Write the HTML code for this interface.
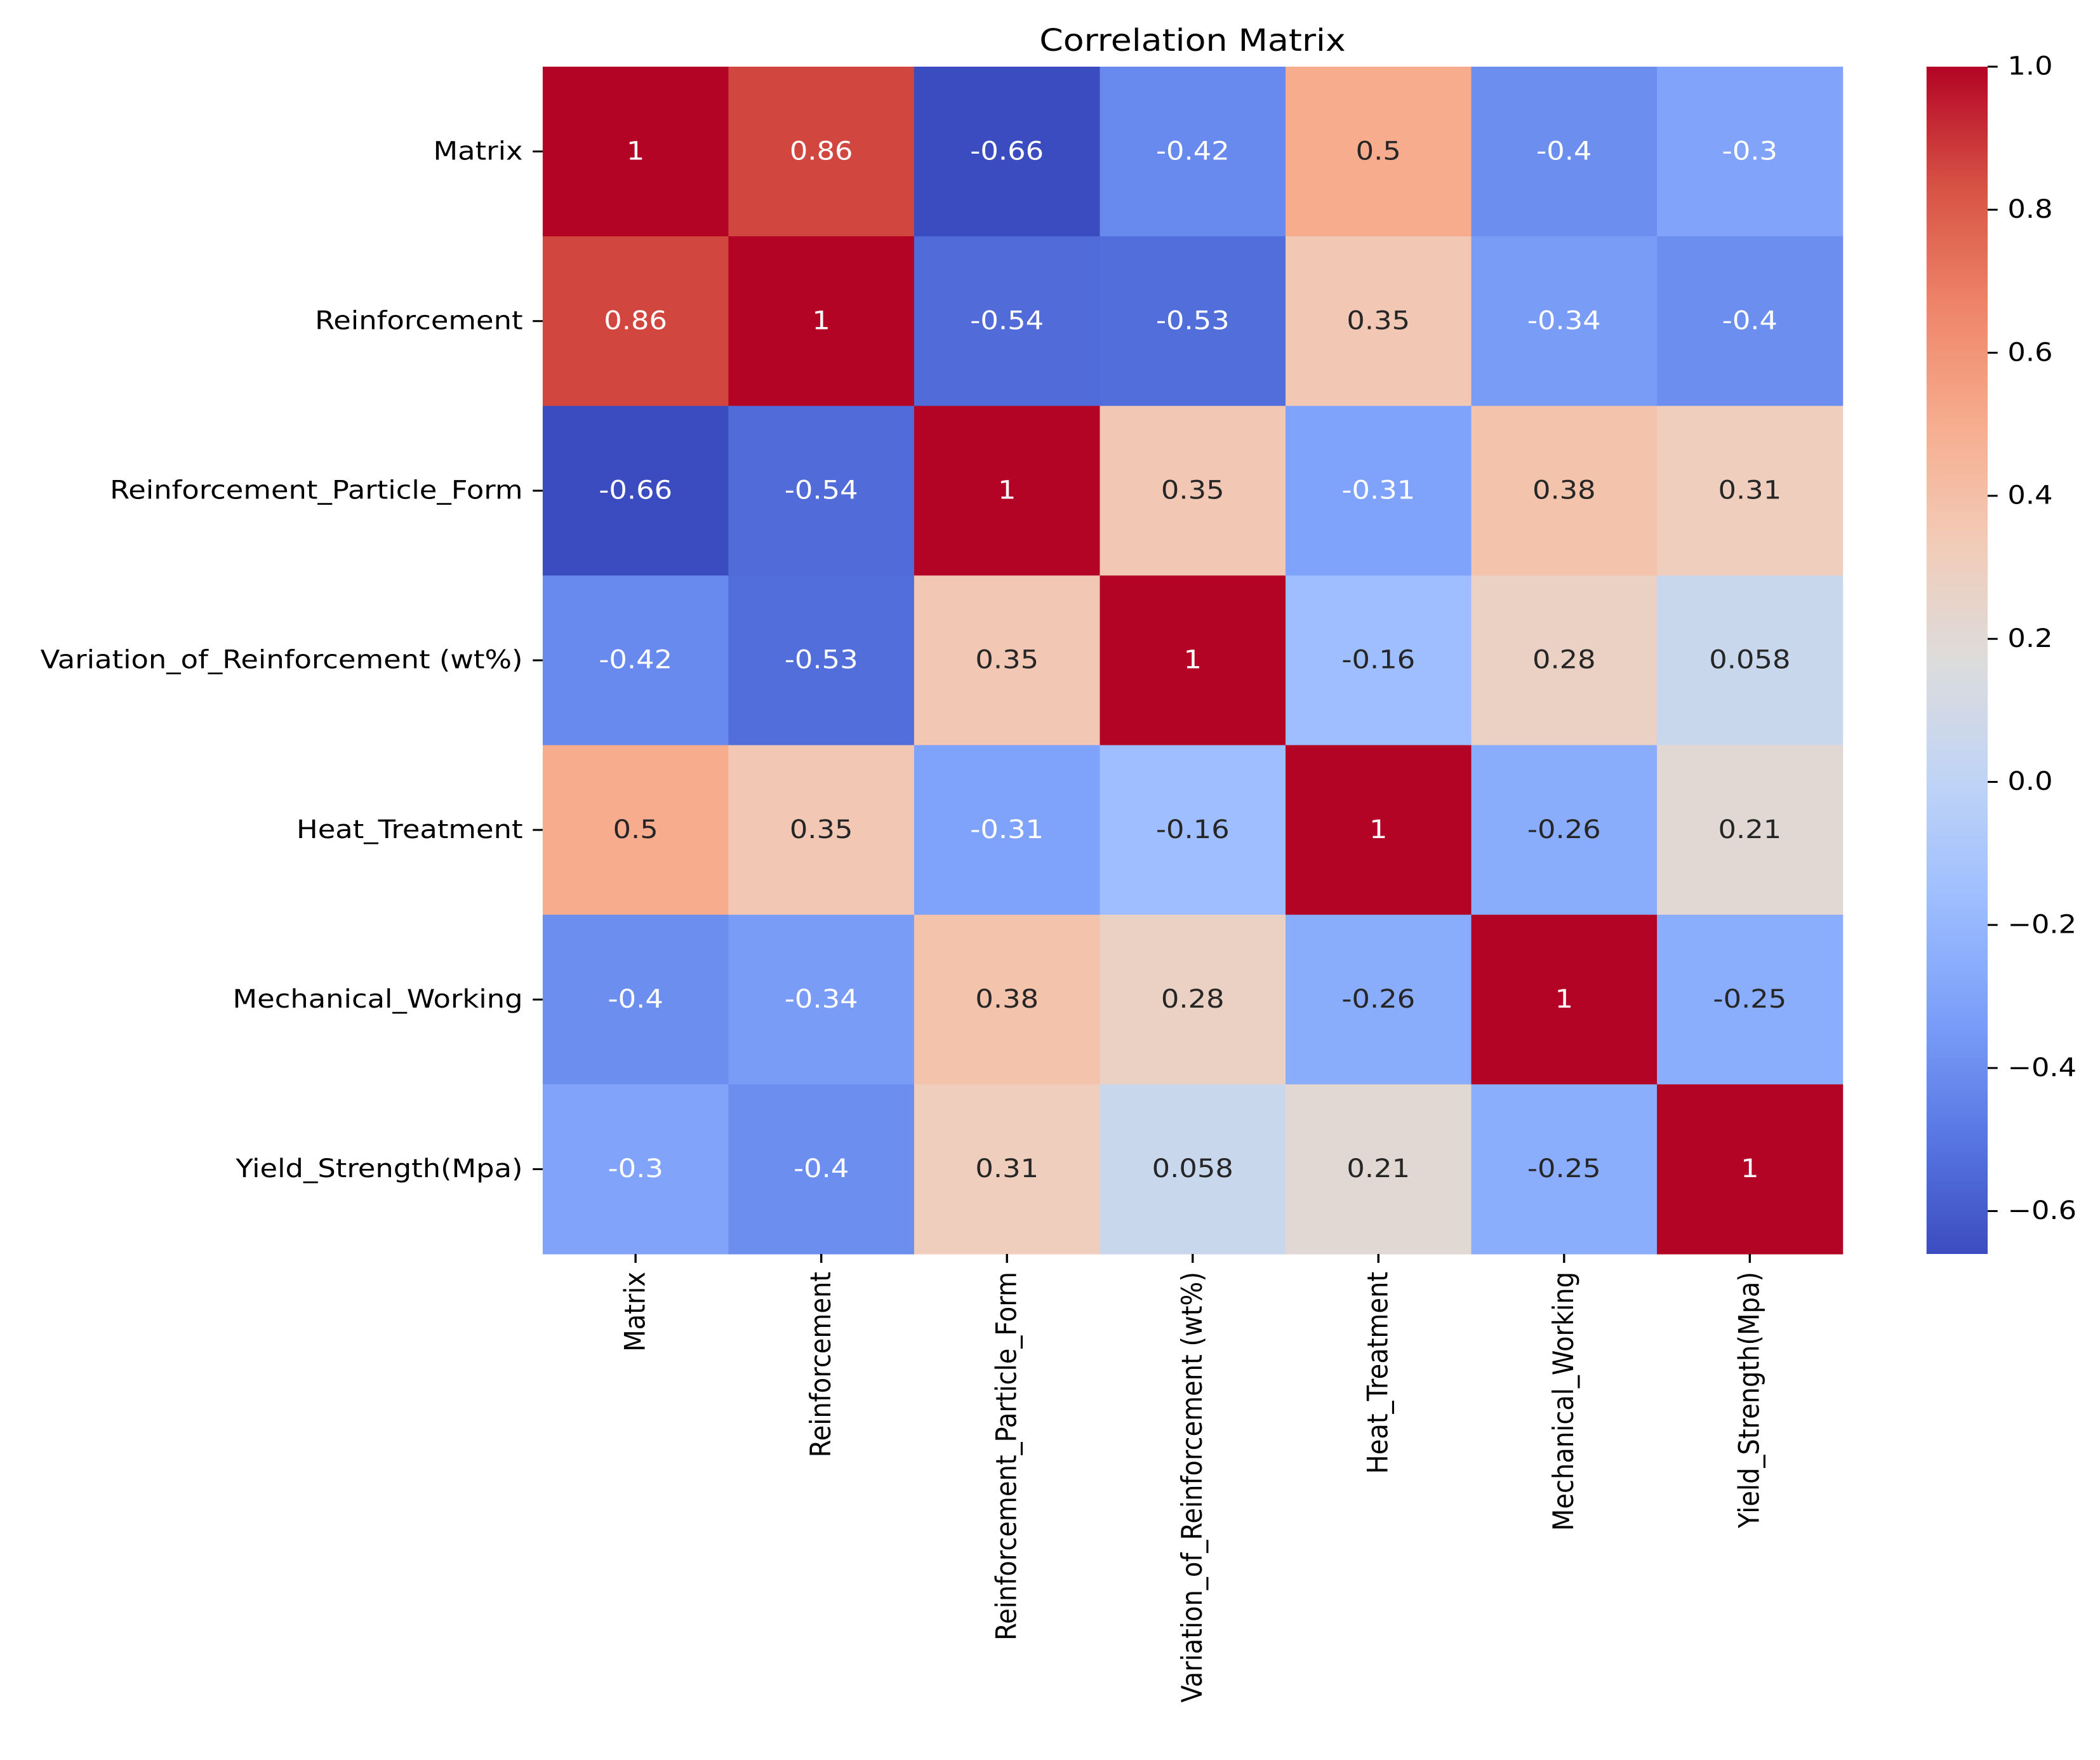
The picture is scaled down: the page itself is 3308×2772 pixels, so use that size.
<!DOCTYPE html>
<html><head><meta charset="utf-8"><style>
html,body{margin:0;padding:0;background:#fff;}
svg{display:block;font-family:"DejaVu Sans","Liberation Sans",sans-serif;}
</style></head><body>
<svg id="chart" xmlns="http://www.w3.org/2000/svg" width="3308" height="2772" viewBox="0 0 2954 2772" preserveAspectRatio="none">
<defs>
<linearGradient id="cw" x1="0" y1="1" x2="0" y2="0">
<stop offset="0" stop-color="#3b4cc0"/><stop offset="0.1" stop-color="#5977e3"/><stop offset="0.2" stop-color="#7b9ff9"/><stop offset="0.3" stop-color="#9ebeff"/><stop offset="0.4" stop-color="#c0d4f5"/><stop offset="0.5" stop-color="#dddcdc"/><stop offset="0.6" stop-color="#f2cbb7"/><stop offset="0.7" stop-color="#f7ac8e"/><stop offset="0.8" stop-color="#ee8468"/><stop offset="0.9" stop-color="#d65244"/><stop offset="1" stop-color="#b40426"/>
</linearGradient>
</defs>
<text x="1677.5" y="80" font-size="48" text-anchor="middle" fill="#000">Correlation Matrix</text>
<g id="cells"></g>
<g id="ylabels"></g>
<g id="xlabels"></g>
<rect x="2710" y="105" width="86" height="1870" fill="url(#cw)"/>
<g id="cbticks"></g>
</svg>
<script>
const categories = ["Matrix","Reinforcement","Reinforcement_Particle_Form","Variation_of_Reinforcement (wt%)","Heat_Treatment","Mechanical_Working","Yield_Strength(Mpa)"];
const row0 = [1,0.86,-0.66,-0.42,0.5,-0.4,-0.3];
const row1 = [0.86,1,-0.54,-0.53,0.35,-0.34,-0.4];
const row2 = [-0.66,-0.54,1,0.35,-0.31,0.38,0.31];
const row3 = [-0.42,-0.53,0.35,1,-0.16,0.28,0.058];
const row4 = [0.5,0.35,-0.31,-0.16,1,-0.26,0.21];
const row5 = [-0.4,-0.34,0.38,0.28,-0.26,1,-0.25];
const row6 = [-0.3,-0.4,0.31,0.058,0.21,-0.25,1];
const cbTicks = [1.0,0.8,0.6,0.4,0.2,0.0,-0.2,-0.4,-0.6];
const cbTickLabels = ["1.0","0.8","0.6","0.4","0.2","0.0","\u22120.2","\u22120.4","\u22120.6"];
const vmin = -0.66, vmax = 1.0;
const rows = [row0,row1,row2,row3,row4,row5,row6];

const NS = "http://www.w3.org/2000/svg";
const X0 = 763.4, X1 = 2592, Y0 = 105, Y1 = 1975;
const n = categories.length;
const cw = (X1 - X0) / n, ch = (Y1 - Y0) / n;
const xOf = i => X0 + i * cw;
const yOf = i => Y0 + i * ch;
const cbY = v => Y1 - (v - vmin) / (vmax - vmin) * (Y1 - Y0);

const stops = ["#3b4cc0","#5977e3","#7b9ff9","#9ebeff","#c0d4f5","#dddcdc","#f2cbb7","#f7ac8e","#ee8468","#d65244","#b40426"].map(h=>[parseInt(h.substr(1,2),16),parseInt(h.substr(3,2),16),parseInt(h.substr(5,2),16)]);
function cmap(v){
  let t = Math.max(0, Math.min(1, (v - vmin) / (vmax - vmin))) * 10;
  let i = Math.min(9, Math.floor(t)), f = t - i;
  return stops[i].map((c,k)=>Math.round(c + (stops[i+1][k]-c)*f));
}
function lum(c){
  const l = c.map(x=>{x/=255;return x<=0.03928?x/12.92:Math.pow((x+0.055)/1.055,2.4);});
  return 0.2126*l[0]+0.7152*l[1]+0.0722*l[2];
}
function mk(tag, attrs, parent, txt){
  const e = document.createElementNS(NS, tag);
  for (const k in attrs) e.setAttribute(k, attrs[k]);
  if (txt !== undefined) e.textContent = txt;
  parent.appendChild(e);
  return e;
}
const gC = document.getElementById('cells');
const gY = document.getElementById('ylabels');
const gX = document.getElementById('xlabels');
const gB = document.getElementById('cbticks');

rows.forEach((r, i) => {
  r.forEach((v, j) => {
    const c = cmap(v);
    const rect = mk('rect', {x: xOf(j), y: yOf(i), width: cw + 0.6, height: ch + 0.6, fill: `rgb(${c[0]},${c[1]},${c[2]})`}, gC);
    
    
    const t = mk('text', {x: xOf(j) + cw/2, y: yOf(i) + ch/2, 'font-size': 40, 'text-anchor': 'middle', 'dominant-baseline': 'central', fill: lum(c) > 0.408 ? '#262626' : '#ffffff'}, gC, String(v));
    
    
  });
});

categories.forEach((name, i) => {
  const yc = yOf(i) + ch/2;
  const tk = mk('line', {x1: X0 - 14, x2: X0, y1: yc, y2: yc, stroke: '#000', 'stroke-width': 3}, gY);
  
  
  const t = mk('text', {x: X0 - 28, y: yc, 'font-size': 40, 'text-anchor': 'end', 'dominant-baseline': 'central', fill: '#000'}, gY, name);
  
  

  const xc = xOf(i) + cw/2;
  const tk2 = mk('line', {x1: xc, x2: xc, y1: Y1, y2: Y1 + 14, stroke: '#000', 'stroke-width': 3}, gX);
  
  
  const t2 = mk('text', {x: 0, y: 0, 'font-size': 40, 'text-anchor': 'end', 'dominant-baseline': 'central', fill: '#000', transform: `translate(${xc},${Y1 + 28}) rotate(-90)`}, gX, name);
  
  
});

cbTicks.forEach((v, k) => {
  const y = cbY(v);
  const tk = mk('line', {x1: 2796, x2: 2810, y1: y, y2: y, stroke: '#000', 'stroke-width': 3}, gB);
  
  
  const t = mk('text', {x: 2824, y: y, 'font-size': 40, 'dominant-baseline': 'central', fill: '#000'}, gB, cbTickLabels[k]);
  
  
});
</script>
</body></html>
